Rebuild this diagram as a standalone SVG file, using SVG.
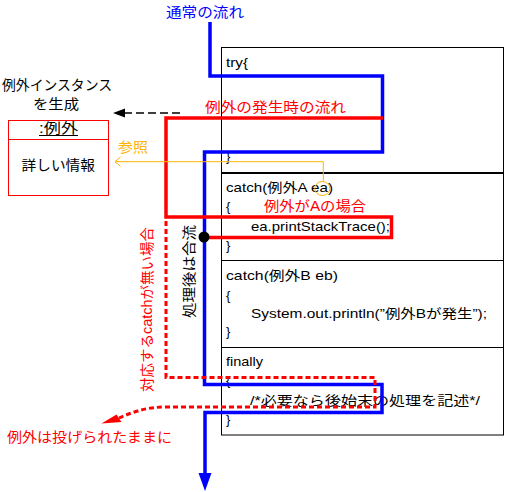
<svg xmlns="http://www.w3.org/2000/svg" width="505" height="492" viewBox="0 0 505 492">
<style>
text{font-family:"Liberation Sans","Noto Sans CJK JP",sans-serif;}
.code{font-size:13px;fill:#000;}
.lbl{font-size:14px;}
.red{fill:#ff0000;}
.blue{fill:#0000ff;}
.blk{fill:#000;}
.gold{fill:#ffb400;}
.flowB{fill:none;stroke:#0000ff;stroke-width:3.5;}
.flowR{fill:none;stroke:#ff0000;stroke-width:3.5;}
.flowRd{fill:none;stroke:#ff0000;stroke-width:3;stroke-dasharray:5,3;}
</style>
<rect width="505" height="492" fill="#fff"/>

<g id="code-box">
  <rect x="221.5" y="47.5" width="282" height="387.5" fill="none" stroke="#000" stroke-width="1"/>
  <line x1="221" y1="173" x2="504" y2="173" stroke="#000" stroke-width="2"/>
  <line x1="221" y1="260.5" x2="504" y2="260.5" stroke="#000" stroke-width="1"/>
  <line x1="221" y1="347.5" x2="504" y2="347.5" stroke="#000" stroke-width="1"/>
</g>

<g id="try-block">
  <text class="code" x="226" y="67" textLength="22" lengthAdjust="spacingAndGlyphs">try{</text>
  <text class="code" x="226" y="161">}</text>
</g>

<g id="catch-a-block">
  <text class="code" x="226" y="191.5" textLength="107" lengthAdjust="spacingAndGlyphs">catch(例外A ea)</text>
  <text class="code" x="226" y="211">{</text>
  <text class="code" x="251" y="231" textLength="139" lengthAdjust="spacingAndGlyphs">ea.printStackTrace();</text>
  <text class="code" x="226" y="249.5">}</text>
  <text class="lbl red" x="264" y="211" textLength="102" lengthAdjust="spacingAndGlyphs">例外がAの場合</text>
</g>

<g id="catch-b-block">
  <text class="code" x="226" y="279.5" textLength="112" lengthAdjust="spacingAndGlyphs">catch(例外B eb)</text>
  <text class="code" x="226" y="299.5">{</text>
  <text class="code" x="251" y="318" textLength="236" lengthAdjust="spacingAndGlyphs">System.out.println(”例外Bが発生”);</text>
  <text class="code" x="226" y="336">}</text>
</g>

<g id="finally-block">
  <text class="code" x="226" y="366" textLength="37" lengthAdjust="spacingAndGlyphs">finally</text>
  <text class="code" x="226" y="384.5">{</text>
  <text class="code" x="250" y="404.5" textLength="230" lengthAdjust="spacingAndGlyphs">/*必要なら後始末の処理を記述*/</text>
  <text class="code" x="226" y="423.5">}</text>
</g>

<g id="exception-object">
  <rect x="8.5" y="120.5" width="100" height="75" fill="#fff" stroke="#ff0000" stroke-width="1"/>
  <line x1="8.5" y1="139.5" x2="108.5" y2="139.5" stroke="#ff0000" stroke-width="1"/>
  <text class="lbl blk" x="39" y="133" textLength="39" lengthAdjust="spacingAndGlyphs">:例外</text>
  <line x1="39" y1="135.5" x2="78" y2="135.5" stroke="#000" stroke-width="1"/>
  <text class="lbl blk" x="21.5" y="170" textLength="73.5" lengthAdjust="spacingAndGlyphs">詳しい情報</text>
</g>

<g id="labels">
  <text class="lbl blue" x="166" y="17" textLength="78" lengthAdjust="spacingAndGlyphs">通常の流れ</text>
  <text class="lbl blk" x="2" y="90" textLength="110" lengthAdjust="spacingAndGlyphs">例外インスタンス</text>
  <text class="lbl blk" x="33" y="109" textLength="46" lengthAdjust="spacingAndGlyphs">を生成</text>
  <text class="lbl red" x="205" y="112" textLength="141" lengthAdjust="spacingAndGlyphs">例外の発生時の流れ</text>
  <text class="lbl gold" x="118" y="152" textLength="30" lengthAdjust="spacingAndGlyphs">参照</text>
  <text class="lbl red" transform="translate(151.5,392) rotate(-90)" x="0" y="0" textLength="165" lengthAdjust="spacingAndGlyphs">対応するcatchが無い場合</text>
  <text class="lbl blk" transform="translate(193.5,318) rotate(-90)" x="0" y="0" textLength="93" lengthAdjust="spacingAndGlyphs">処理後は合流</text>
  <text class="lbl red" x="7" y="441.5" textLength="165" lengthAdjust="spacingAndGlyphs">例外は投げられたままに</text>
</g>

<g id="connectors">
  <path class="flowB" d="M210,22 V76 H382.5 V152 H204.5 V384.5 H382 V412.5 H205 V474"/>
  <polygon points="198.5,473 211.5,473 205,491" fill="#0000ff"/>
  <path class="flowR" d="M383,118 H166 V217 H391.5 V237.5 H205"/>
  <circle cx="204" cy="237" r="5.5" fill="#000"/>
  <path class="flowRd" d="M166,221 V377.5 H375 V407 H166 C148,407 135,411 119,418"/>
  <polygon points="101.5,423.5 116.5,414.5 121.5,422" fill="#ff0000"/>
  <line x1="180" y1="113" x2="124" y2="113" stroke="#000" stroke-width="1.5" stroke-dasharray="8,4"/>
  <polygon points="113,113 125,108.5 125,117.5" fill="#000"/>
  <path d="M323.3,181.5 V161.7 H115" fill="none" stroke="#ffb400" stroke-width="1"/>
  <path d="M120.5,157 L115,161.7 L120.5,166.4" fill="none" stroke="#ffb400" stroke-width="1"/>
  <ellipse cx="322.3" cy="188.5" rx="7.5" ry="7" fill="none" stroke="#ffb400" stroke-width="1"/>
</g>
</svg>
